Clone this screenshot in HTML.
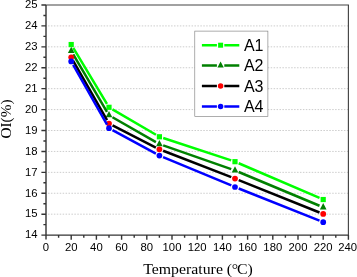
<!DOCTYPE html>
<html><head><meta charset="utf-8"><title>OI vs Temperature</title>
<style>html,body{margin:0;padding:0;background:#fff;}body{width:357px;height:277px;overflow:hidden;}svg{display:block;}</style>
</head><body>
<svg width="357" height="277" viewBox="0 0 357 277">
<rect width="357" height="277" fill="#fff"/>
<line x1="48.00" y1="214.18" x2="348.40" y2="214.18" stroke="#cdcdcd" stroke-width="1" stroke-dasharray="1.5 1.43"/>
<line x1="48.00" y1="193.26" x2="348.40" y2="193.26" stroke="#cdcdcd" stroke-width="1" stroke-dasharray="1.5 1.43"/>
<line x1="48.00" y1="172.35" x2="348.40" y2="172.35" stroke="#cdcdcd" stroke-width="1" stroke-dasharray="1.5 1.43"/>
<line x1="48.00" y1="151.43" x2="348.40" y2="151.43" stroke="#cdcdcd" stroke-width="1" stroke-dasharray="1.5 1.43"/>
<line x1="48.00" y1="130.51" x2="348.40" y2="130.51" stroke="#cdcdcd" stroke-width="1" stroke-dasharray="1.5 1.43"/>
<line x1="48.00" y1="109.59" x2="348.40" y2="109.59" stroke="#cdcdcd" stroke-width="1" stroke-dasharray="1.5 1.43"/>
<line x1="48.00" y1="88.67" x2="348.40" y2="88.67" stroke="#cdcdcd" stroke-width="1" stroke-dasharray="1.5 1.43"/>
<line x1="48.00" y1="67.75" x2="348.40" y2="67.75" stroke="#cdcdcd" stroke-width="1" stroke-dasharray="1.5 1.43"/>
<line x1="48.00" y1="46.84" x2="348.40" y2="46.84" stroke="#cdcdcd" stroke-width="1" stroke-dasharray="1.5 1.43"/>
<line x1="48.00" y1="25.92" x2="348.40" y2="25.92" stroke="#cdcdcd" stroke-width="1" stroke-dasharray="1.5 1.43"/>
<path d="M46.00 5.00H348.40V235.10" fill="none" stroke="#444" stroke-width="1.15"/>
<path d="M46.00 5.00V239.40M41.40 235.10H348.40" fill="none" stroke="#343434" stroke-width="1.4"/>
<path d="M46.00 224.64h-2.6M46.00 214.18h-4.6M46.00 203.72h-2.6M46.00 193.26h-4.6M46.00 182.80h-2.6M46.00 172.35h-4.6M46.00 161.89h-2.6M46.00 151.43h-4.6M46.00 140.97h-2.6M46.00 130.51h-4.6M46.00 120.05h-2.6M46.00 109.59h-4.6M46.00 99.13h-2.6M46.00 88.67h-4.6M46.00 78.21h-2.6M46.00 67.75h-4.6M46.00 57.30h-2.6M46.00 46.84h-4.6M46.00 36.38h-2.6M46.00 25.92h-4.6M46.00 15.46h-2.6M46.00 5.00h-4.6M58.60 235.10v2.6M71.20 235.10v4.6M83.80 235.10v2.6M96.40 235.10v4.6M109.00 235.10v2.6M121.60 235.10v4.6M134.20 235.10v2.6M146.80 235.10v4.6M159.40 235.10v2.6M172.00 235.10v4.6M184.60 235.10v2.6M197.20 235.10v4.6M209.80 235.10v2.6M222.40 235.10v4.6M235.00 235.10v2.6M247.60 235.10v4.6M260.20 235.10v2.6M272.80 235.10v4.6M285.40 235.10v2.6M298.00 235.10v4.6M310.60 235.10v2.6M323.20 235.10v4.6M335.80 235.10v2.6M348.40 235.10v4.6" fill="none" stroke="#343434" stroke-width="1.4"/>
<g font-family="'Liberation Sans', Arial, sans-serif" font-size="11.3" fill="#000">
<text x="37.6" y="238.40" text-anchor="end">14</text>
<text x="37.6" y="217.48" text-anchor="end">15</text>
<text x="37.6" y="196.56" text-anchor="end">16</text>
<text x="37.6" y="175.65" text-anchor="end">17</text>
<text x="37.6" y="154.73" text-anchor="end">18</text>
<text x="37.6" y="133.81" text-anchor="end">19</text>
<text x="37.6" y="112.89" text-anchor="end">20</text>
<text x="37.6" y="91.97" text-anchor="end">21</text>
<text x="37.6" y="71.05" text-anchor="end">22</text>
<text x="37.6" y="50.14" text-anchor="end">23</text>
<text x="37.6" y="29.22" text-anchor="end">24</text>
<text x="37.6" y="8.30" text-anchor="end">25</text>
<text x="46.00" y="251.2" text-anchor="middle">0</text>
<text x="71.20" y="251.2" text-anchor="middle">20</text>
<text x="96.40" y="251.2" text-anchor="middle">40</text>
<text x="121.60" y="251.2" text-anchor="middle">60</text>
<text x="146.80" y="251.2" text-anchor="middle">80</text>
<text x="172.00" y="251.2" text-anchor="middle">100</text>
<text x="197.20" y="251.2" text-anchor="middle">120</text>
<text x="222.40" y="251.2" text-anchor="middle">140</text>
<text x="247.60" y="251.2" text-anchor="middle">160</text>
<text x="272.80" y="251.2" text-anchor="middle">180</text>
<text x="298.00" y="251.2" text-anchor="middle">200</text>
<text x="323.20" y="251.2" text-anchor="middle">220</text>
<text x="347.60" y="251.2" text-anchor="middle">240</text>
</g>
<g font-family="'Liberation Serif', 'Times New Roman', serif" font-size="15.8" fill="#000">
<text transform="translate(198.0 273.5) scale(1.055 1)" text-anchor="middle" font-size="15">Temperature (<tspan dx="-0.4">°</tspan><tspan dx="-1.0">C)</tspan></text>
<text transform="translate(11.0 119) rotate(-90)" text-anchor="middle" font-size="15.3">OI(%)</text>
</g>
<path d="M73.26 47.96L106.94 103.86M112.45 109.31L155.95 134.76M163.20 138.04L231.20 160.43M238.68 163.26L319.52 197.96" fill="none" stroke="#00ff00" stroke-width="2.5"/>
<rect x="68.60" y="41.94" width="5.20" height="5.20" fill="#00ff00"/>
<rect x="106.40" y="104.69" width="5.20" height="5.20" fill="#00ff00"/>
<rect x="156.80" y="134.18" width="5.20" height="5.20" fill="#00ff00"/>
<rect x="232.40" y="159.08" width="5.20" height="5.20" fill="#00ff00"/>
<rect x="320.60" y="196.94" width="5.20" height="5.20" fill="#00ff00"/>
<path d="M73.23 54.47L106.97 111.79M112.47 117.23L155.93 142.12M163.18 145.42L231.22 169.15M238.69 172.00L319.51 205.74" fill="none" stroke="#008000" stroke-width="2.5"/>
<polygon points="71.20,46.82 67.90,53.12 74.50,53.12" fill="#008000"/>
<polygon points="109.00,111.04 105.70,117.34 112.30,117.34" fill="#008000"/>
<polygon points="159.40,139.91 156.10,146.21 162.70,146.21" fill="#008000"/>
<polygon points="235.00,166.26 231.70,172.56 238.30,172.56" fill="#008000"/>
<polygon points="323.20,203.08 319.90,209.38 326.50,209.38" fill="#008000"/>
<path d="M73.18 60.77L107.02 120.13M112.56 125.42L155.84 147.52M163.13 150.78L231.27 177.18M238.71 180.11L319.49 212.48" fill="none" stroke="#000000" stroke-width="2.5"/>
<circle cx="71.20" cy="57.30" r="2.86" fill="#ff0000"/>
<circle cx="109.00" cy="123.61" r="2.86" fill="#ff0000"/>
<circle cx="159.40" cy="149.34" r="2.86" fill="#ff0000"/>
<circle cx="235.00" cy="178.62" r="2.86" fill="#ff0000"/>
<circle cx="323.20" cy="213.97" r="2.86" fill="#ff0000"/>
<path d="M73.17 64.96L107.03 124.73M112.51 130.12L155.89 153.70M163.09 157.14L231.31 185.45M238.72 188.47L319.48 220.65" fill="none" stroke="#0000ff" stroke-width="2.5"/>
<circle cx="71.20" cy="61.48" r="2.86" fill="#0000ff"/>
<circle cx="109.00" cy="128.21" r="2.86" fill="#0000ff"/>
<circle cx="159.40" cy="155.61" r="2.86" fill="#0000ff"/>
<circle cx="235.00" cy="186.99" r="2.86" fill="#0000ff"/>
<circle cx="323.20" cy="222.13" r="2.86" fill="#0000ff"/>
<rect x="194.8" y="31.1" width="73.10" height="85.50" fill="#fff" stroke="#777" stroke-width="0.6"/>
<g font-family="'Liberation Sans', Arial, sans-serif" font-size="16" fill="#000">
<path d="M201.9 45.20H216.90M224.30 45.20H239.3" stroke="#00ff00" stroke-width="2.5" fill="none"/>
<rect x="218.10" y="42.70" width="5.00" height="5.00" fill="#00ff00"/>
<text x="243.9" y="50.90">A1</text>
<path d="M201.9 65.60H216.90M224.30 65.60H239.3" stroke="#008000" stroke-width="2.5" fill="none"/>
<polygon points="220.60,61.56 217.43,67.62 223.77,67.62" fill="#008000"/>
<text x="243.9" y="71.30">A2</text>
<path d="M201.9 86.00H216.90M224.30 86.00H239.3" stroke="#000000" stroke-width="2.5" fill="none"/>
<circle cx="220.60" cy="86.00" r="2.75" fill="#ff0000"/>
<text x="243.9" y="91.70">A3</text>
<path d="M201.9 106.40H216.90M224.30 106.40H239.3" stroke="#0000ff" stroke-width="2.5" fill="none"/>
<circle cx="220.60" cy="106.40" r="2.75" fill="#0000ff"/>
<text x="243.9" y="112.10">A4</text>
</g>
</svg>
</body></html>
